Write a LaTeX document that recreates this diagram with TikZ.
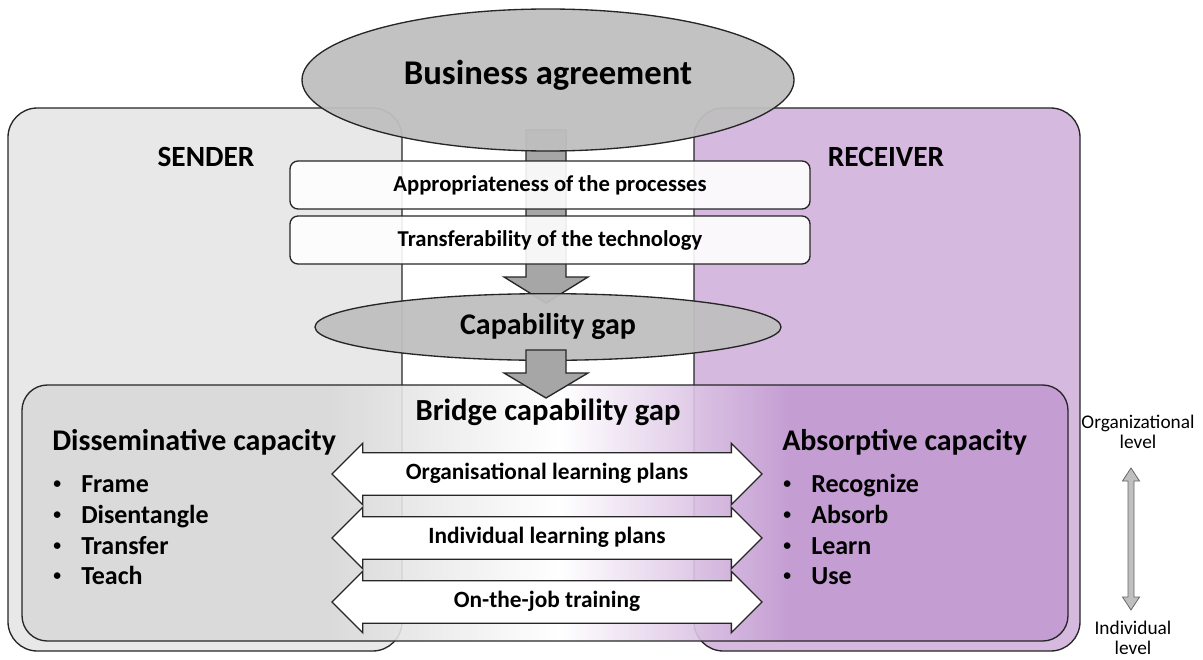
\documentclass[tikz,border=0pt]{standalone}
\usepackage{fontspec}
\setmainfont{Carlito}
\usetikzlibrary{shapes.geometric,shapes.arrows}
\definecolor{sendergray}{RGB}{232,232,232}
\definecolor{receiverpurple}{RGB}{214,185,222}
\definecolor{ovalgray}{RGB}{191,191,191}
\definecolor{arrowgray}{RGB}{166,166,166}
\definecolor{bridgegray}{RGB}{217,217,217}
\definecolor{bridgepurple}{RGB}{195,155,210}
\pgfdeclarehorizontalshading{bridgeshade}{100bp}{color(0bp)=(bridgegray); color(39.7bp)=(bridgegray); color(50.7bp)=(white); color(61.7bp)=(bridgepurple); color(100bp)=(bridgepurple)}
\newcommand{\itm}[1]{\makebox[21pt][l]{\raisebox{2.6pt}{\scalebox{0.6}{\textbullet}}}#1}

\tikzset{
  side/.style={draw=black!85, line width=1pt, rounded corners=22pt},
  oval/.style={ellipse, draw=black!85, line width=1pt, fill=ovalgray, fill opacity=0.95, text opacity=1},
  factor/.style={draw=black!85, line width=1pt, fill=white, fill opacity=0.9, text opacity=1, rounded corners=6pt, minimum width=390pt, minimum height=36pt, font=\fontsize{17}{19}\selectfont\bfseries},
  bigarrow/.style={draw=black!85, line width=1pt, fill=arrowgray},
  plan/.style={double arrow, draw=black!85, line width=1pt, fill=white, double arrow tip angle=90, double arrow head extend=7.1pt, minimum height=322.5pt, inner ysep=7.9pt, text height=11.5pt, text depth=3.5pt, font=\fontsize{17.5}{19}\selectfont\bfseries},
  party/.style={font=\fontsize{22}{24}\selectfont\bfseries},
  capacity/.style={anchor=west, inner sep=0pt, font=\fontsize{22.5}{26}\selectfont\bfseries},
  item/.style={anchor=base west, inner sep=0pt, font=\fontsize{19.5}{22}\selectfont\bfseries},
  level/.style={align=center, font=\fontsize{14.5}{15}\selectfont}
}

\begin{document}
\begin{tikzpicture}[x=0.75pt, y=-0.75pt]
  \useasboundingbox (0,0) rectangle (1203,660);
  % sender and receiver
  \draw[side, fill=sendergray] (8,108) rectangle (402,651);
  \draw[side, fill=receiverpurple] (694,108) rectangle (1080,651);
  \node[party] (sender) at (206,157) {SENDER};
  \node[party] (receiver) at (886,157) {RECEIVER};

  \draw[bigarrow] (526,130) -- (526,277) -- (504,277) -- (546,303) -- (588,277) -- (566,277) -- (566,130) -- cycle;
  \node[factor] (approp) at (550,185) {Appropriateness of the processes};
  \node[factor] (transf) at (550,240) {Transferability of the technology};
  \node[oval, minimum width=369pt, minimum height=106.5pt, text depth=12pt, font=\fontsize{26}{30}\selectfont\bfseries] (business) at (548,80) {Business agreement};
  \node[oval, minimum width=349.5pt, minimum height=50pt, font=\fontsize{22.5}{26}\selectfont\bfseries] (gap) at (548,327) {Capability gap};

  % bridge
  \shadedraw[side, rounded corners=19pt, shading=bridgeshade, fill opacity=0.9] (22,385) rectangle (1068,641);
  \draw[bigarrow] (526,350) -- (526,373) -- (504,373) -- (546,398) -- (588,373) -- (566,373) -- (566,350) -- cycle;
  \node[font=\fontsize{23}{26}\selectfont\bfseries] (bridge) at (548,412) {Bridge capability gap};
  \node[plan] (orgplans) at (547,474) {Organisational learning plans};
  \node[plan] (indplans) at (547,538) {Individual learning plans};
  \node[plan] (training) at (547,602) {On-the-job training};

  \node[capacity] (dissem) at (52,442) {Disseminative capacity};
  \node[item] (frame) at (53,492) {\itm{Frame}};
  \node[item] (disent) at (53,523) {\itm{Disentangle}};
  \node[item] (transfer) at (53,554) {\itm{Transfer}};
  \node[item] (teach) at (53,584) {\itm{Teach}};

  \node[capacity] (absorp) at (782,442) {Absorptive capacity};
  \node[item] (recog) at (783,492) {\itm{Recognize}};
  \node[item] (absorb) at (783,523) {\itm{Absorb}};
  \node[item] (learn) at (783,554) {\itm{Learn}};
  \node[item] (use) at (783,584) {\itm{Use}};

  % levels
  \node[level] (orglevel) at (1138,432) {Organizational\\level};
  \node[level] (indlevel) at (1133,638) {Individual\\level};
  \draw[draw=black!60, line width=0.6pt, fill=ovalgray] (1131,468) -- (1139.5,481) -- (1134,481) -- (1134,597) -- (1139.5,597) -- (1131,610) -- (1122.5,597) -- (1128,597) -- (1128,481) -- (1122.5,481) -- cycle;
\end{tikzpicture}
\end{document}
